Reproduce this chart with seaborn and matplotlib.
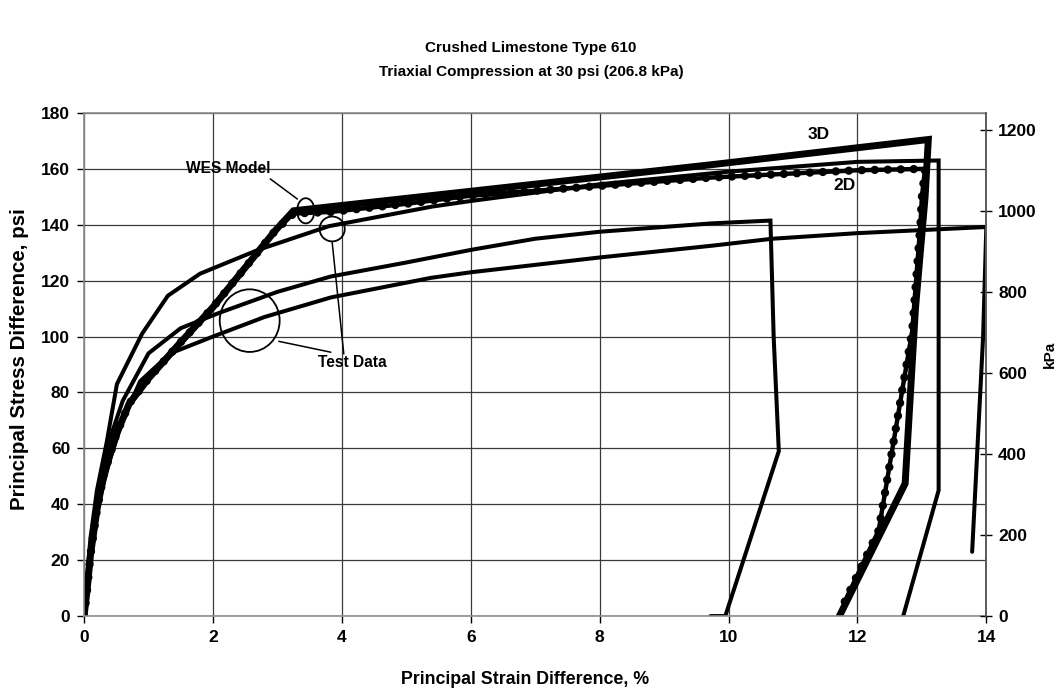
"""
plot.py -- triaxial compression, crushed limestone 610 (test data vs WES model)
"""
import pandas as pd
import matplotlib
matplotlib.use("Agg")
import matplotlib.pyplot as plt
from matplotlib.patches import Ellipse
import seaborn as sns

# ── data (strain %, stress psi) ──────────────────────────────────────────────
test1_strain = [0, 0.05, 0.1, 0.2, 0.35, 0.51, 0.9, 1.3, 1.8, 2.7, 3.8, 5.4, 6.0, 8.0,
                10.0, 12.0, 13.26, 13.26, 12.71]
test1_stress = [0, 15, 28, 45, 62, 83, 101, 114.6, 122.5, 131, 139.5, 146.5, 148.5, 154.5,
                159, 162.5, 163, 45, 0]

test2_strain = [0, 0.1, 0.2, 0.35, 0.6, 1.0, 1.5, 2.1, 3.0, 3.83, 5.0, 6.0, 7.0, 8.0,
                9.74, 10.65, 10.7, 10.78, 9.95, 9.72]
test2_stress = [0, 24, 42, 60, 77, 94, 103, 108.5, 116, 121.5, 126.5, 131, 135, 137.5,
                140.5, 141.5, 100, 59, 0, 0]

test3_strain = [0, 0.1, 0.2, 0.4, 0.6, 0.87, 1.34, 2.0, 2.8, 3.83, 5.38, 6.0, 8.0, 9.74,
                10.68, 12.0, 14.0, 13.95, 13.78]
test3_stress = [0, 20, 38, 56, 70, 84, 94, 100, 107, 114, 121, 123, 128.3, 132.5,
                135, 137, 139.2, 100, 23]

model3d_strain = [0, 0.05, 0.1, 0.2, 0.3, 0.5, 0.7, 1.0, 1.5, 2.0, 2.97, 3.25, 9.74, 13.1,
                  13.05, 12.9, 12.74, 11.72]
model3d_stress = [0, 10, 22, 38, 50, 65, 76, 85, 98, 110.5, 138, 145, 161.5, 170.5,
                  150, 110, 47.4, 0]

model2d_strain = [0, 0.05, 0.1, 0.2, 0.3, 0.5, 0.7, 1.0, 1.5, 2.0, 2.97, 3.25, 3.83, 5.0,
                  6.0, 8.0, 9.74, 12.0, 13.05, 13.0, 12.98, 12.85, 12.33, 11.8]
model2d_stress = [0, 10, 22, 38, 50, 65, 76, 85, 98, 110.5, 138, 144, 144.6, 147.5,
                  150.4, 153.9, 156.9, 159.5, 160, 150, 141, 102, 30.7, 5]

x_ticks = [0, 2, 4, 6, 8, 10, 12, 14]
y_ticks = [0, 20, 40, 60, 80, 100, 120, 140, 160, 180]
kpa_ticks = [0, 200, 400, 600, 800, 1000, 1200]
PSI_TO_KPA = 6.894757

sns.set_theme(style="white")
plt.rcParams.update({
    "font.family": ["Liberation Sans", "DejaVu Sans"],
    "font.weight": "bold",
    "axes.labelweight": "bold",
    "text.color": "black", "axes.labelcolor": "black",
    "xtick.color": "black", "ytick.color": "black",
})
FS = 12.5


def draw_curve(ax, xs, ys, lw, beads=False):
    df = pd.DataFrame({"strain": xs, "stress": ys})
    sns.lineplot(data=df, x="strain", y="stress", sort=False, estimator=None,
                 color="black", lw=lw, ax=ax, solid_joinstyle="miter")
    if beads:
        # circle markers along the model curve
        sns.lineplot(data=df, x="strain", y="stress", sort=False, estimator=None,
                     color="black", lw=6.0, ax=ax, dashes=False,
                     linestyle=(0, (0.01, 1.55)), dash_capstyle="round")


fig, ax = plt.subplots(figsize=(10.64, 6.93), dpi=100)
fig.subplots_adjust(left=0.079, right=0.927, bottom=0.111, top=0.837)

ax.set_xlim(0, 14)
ax.set_ylim(0, 180)
ax.set_xticks(x_ticks)
ax.set_yticks(y_ticks)
ax.grid(True, color="#3a3a3a", lw=0.9)
ax.set_axisbelow(True)
for s in ax.spines.values():
    s.set_color("#8c8c8c")
    s.set_linewidth(1.2)

draw_curve(ax, test1_strain, test1_stress, 2.9)
draw_curve(ax, test2_strain, test2_stress, 2.9)
draw_curve(ax, test3_strain, test3_stress, 2.9)
draw_curve(ax, model3d_strain, model3d_stress, 5.0)
draw_curve(ax, model2d_strain, model2d_stress, 3.2, beads=True)

# annotations
for (cx, cy, w, h) in [(3.44, 145, 0.27, 9.0), (3.85, 138.5, 0.39, 8.9), (2.57, 105.7, 0.93, 22.4)]:
    ax.add_patch(Ellipse((cx, cy), w, h, fill=False, ec="black", lw=1.3, zorder=5))
ax.plot([2.89, 3.31], [156.4, 149.2], color="black", lw=1.1)
ax.plot([3.85, 4.03], [133.7, 93.8], color="black", lw=1.1)
ax.plot([3.02, 3.83], [98.3, 94.4], color="black", lw=1.1)
ax.text(2.24, 160, "WES Model", ha="center", va="center", fontsize=FS - 1.3, fontweight="bold")
ax.text(4.17, 90.7, "Test Data", ha="center", va="center", fontsize=FS - 1.3, fontweight="bold")
ax.text(11.4, 172.4, "3D", ha="center", va="center", fontsize=FS, fontweight="bold")
ax.text(11.8, 154.0, "2D", ha="center", va="center", fontsize=FS, fontweight="bold")

ax.tick_params(axis="both", direction="out", length=5, width=1, labelsize=FS,
               left=True, bottom=True, pad=5)
ax.set_xlabel("Principal Strain Difference, %", fontsize=FS + 0.3, fontweight="bold")
ax.set_ylabel("Principal Stress Difference, psi", fontsize=FS + 2.3, fontweight="bold")
ax.xaxis.set_label_coords(0.489, -0.11)
ax.yaxis.set_label_coords(-0.061, 0.51)

ax2 = ax.twinx()
ax2.set_ylim(0, 180 * PSI_TO_KPA)
ax2.set_yticks(kpa_ticks)
ax2.tick_params(axis="y", direction="inout", length=9, width=1, labelsize=FS, right=True, pad=4)
ax2.set_ylabel("kPa", fontsize=FS - 1.5, fontweight="bold")
ax2.yaxis.set_label_coords(1.063, 0.52)
ax2.spines["right"].set_color("#555555")
for s in ["left", "top", "bottom"]:
    ax2.spines[s].set_visible(False)
ax2.grid(False)

fig.text(0.499, 0.931, "Crushed Limestone Type 610", ha="center", va="center",
         fontsize=FS - 1.5, fontweight="bold")
fig.text(0.499, 0.896, "Triaxial Compression at 30 psi (206.8 kPa)", ha="center", va="center",
         fontsize=FS - 1.5, fontweight="bold")

plt.savefig("out.png", dpi=100, facecolor="white")
plt.close()
